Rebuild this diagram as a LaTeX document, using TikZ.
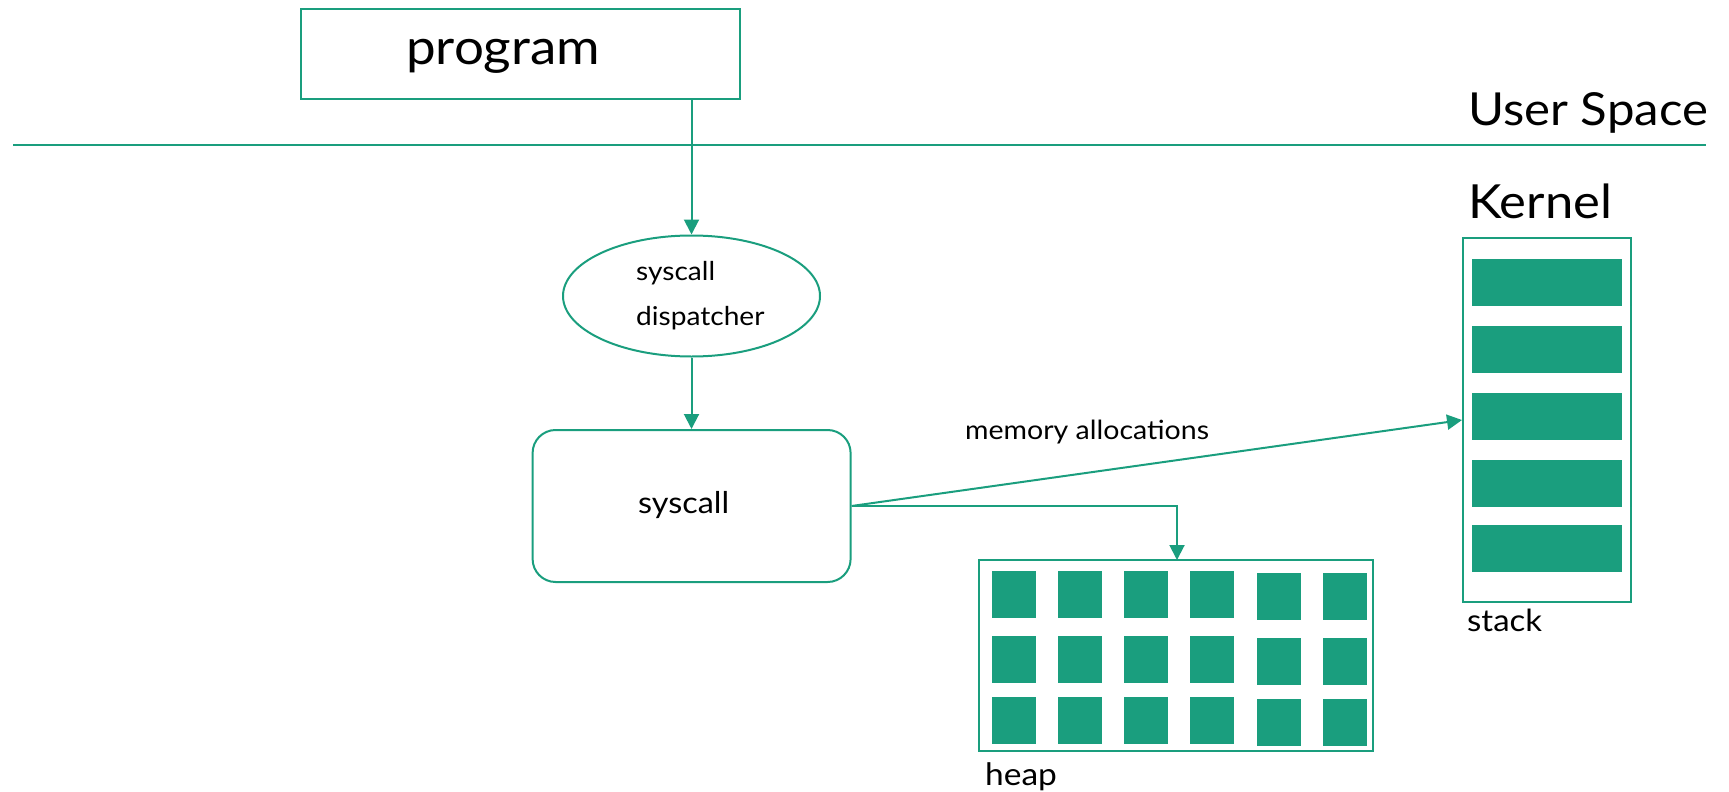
\documentclass[tikz,border=0pt]{standalone}
\usepackage{fontspec}
\setmainfont{Lato}[FakeStretch=1.08]
\usetikzlibrary{arrows.meta,shapes.geometric}
\definecolor{kgreen}{RGB}{26,158,126}
\tikzset{
  frame/.style={draw=kgreen, line width=2pt, inner sep=0pt},
  arr/.style={draw=kgreen, line width=2pt, -{Triangle[length=15pt,width=15pt]}},
  cell/.style={fill=kgreen, draw=none},
  txt/.style={anchor=base west, inner sep=0pt, text=black},
}
\newcommand{\fs}[1]{\fontsize{#1}{#1}\selectfont}
\begin{document}
\begin{tikzpicture}[x=1pt,y=-1pt]
\useasboundingbox (0,0) rectangle (1729,792);

% user space / kernel boundary
\coordinate (sepL) at (13,145);
\coordinate (sepR) at (1706,145);
\draw[kgreen, line width=2pt] (sepL) -- (sepR);
\node[txt, font=\fs{45.5}] (us) at (1468,125) {User Space};
\node[txt, font=\fs{47}] (kn) at (1468,218) {Kernel};

% program
\node[frame, minimum width=439pt, minimum height=90pt] (prog) at (520.5,54) {};
\node[txt, font=\fs{49}] (progt) at (406,65) {program};

% dispatcher
\node[frame, ellipse, minimum width=257pt, minimum height=121pt] (disp) at (691.5,296) {};
\node[anchor=north west, inner sep=0pt, align=left, font=\fontsize{26}{45}\selectfont] (dispt) at (636,261) {syscall\\dispatcher};

% syscall
\node[frame, rounded corners=23pt, minimum width=318pt, minimum height=152pt] (sys) at (691.6,506) {};
\node[txt, font=\fs{30}] (syst) at (638,513) {syscall};

% heap
\node[frame, minimum width=394pt, minimum height=191pt] (heap) at (1176,655.5) {};
\foreach \x/\d in {992/0,1058/0,1124/0,1190/0,1257/1.5,1323/1.5}
  \foreach \y in {571,636,697}
    \fill[kgreen] (\x,\y+\d) rectangle ++(44,47);
\node[txt, font=\fs{31}] (heapt) at (985,785) {heap};

% stack
\node[frame, minimum width=168pt, minimum height=364pt] (stack) at (1547,420) {};
\foreach \y in {258.6,325.7,393,460,524.6}
  \fill[kgreen] (1472,\y) rectangle ++(150,47);
\node[txt, font=\fs{30.5}] (stackt) at (1467,631) {stack};

% connectors
\coordinate (heapin) at (1177,560);
\draw[arr] (prog.south -| disp.north) -- (disp.north);
\draw[arr] (disp.south) -- (sys.north -| disp.south);
\draw[arr] (sys.east) -- (stack.west);
\draw[arr] (sys.east) -| (heapin);
\node[txt, font=\fs{26.4}] (mem) at (965,439) {memory allocations};
\end{tikzpicture}
\end{document}
